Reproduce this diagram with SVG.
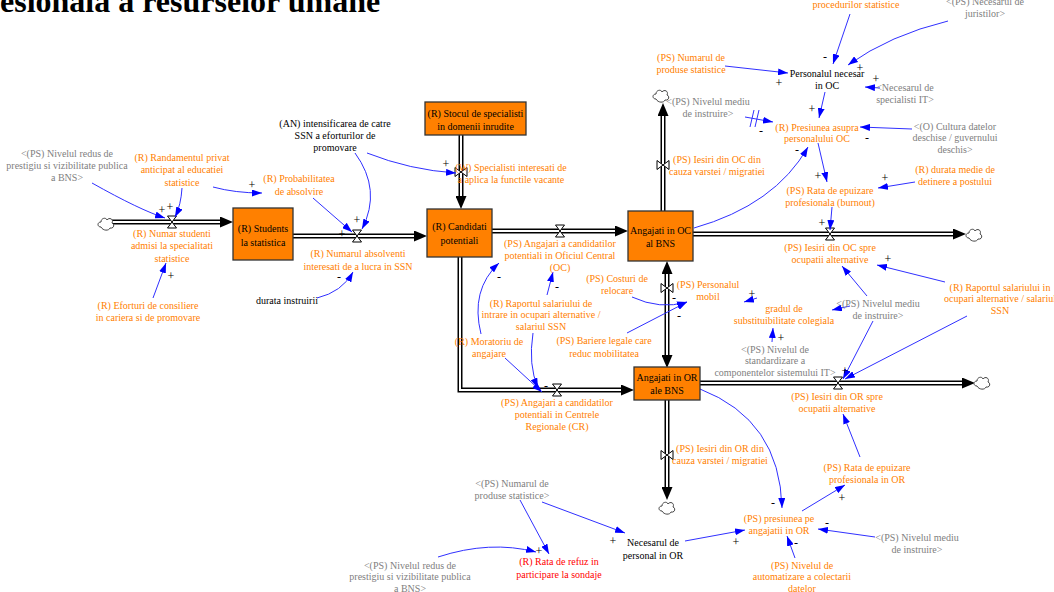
<svg xmlns="http://www.w3.org/2000/svg" width="1054" height="592" viewBox="0 0 1054 592">
<style>
.t{font-family:"Liberation Serif","Times New Roman",serif;font-size:10px;text-anchor:middle}
.o{fill:#ff8000}.g{fill:#808080}.k{fill:#000}.r{fill:#ff0000}
.box{fill:#ff8000;stroke:#333;stroke-width:1.3}
.po{fill:none;stroke:#000;stroke-width:5;stroke-linejoin:miter}
.pi{fill:none;stroke:#fff;stroke-width:2;stroke-linejoin:miter}
.ln{fill:none;stroke:#3030ff;stroke-width:1;marker-end:url(#ba)}
.sg{font-family:"Liberation Serif","Times New Roman",serif;font-size:12px;text-anchor:middle;fill:#000}
</style>
<defs>
<marker id="ba" viewBox="0 0 10 7" refX="10" refY="3.5" markerWidth="10" markerHeight="7" markerUnits="userSpaceOnUse" orient="auto"><path d="M0,0L10,3.5L0,7z" fill="#0000ff"/></marker>
<marker id="pa" viewBox="0 0 13 11" refX="0" refY="5.5" markerWidth="13" markerHeight="11" markerUnits="userSpaceOnUse" orient="auto-start-reverse"><path d="M0,0L13,5.5L0,11z" fill="#000"/></marker>
<path id="vh" d="M-4.5,-6H4.5L-4.5,6H4.5Z" fill="#fff" stroke="#000" stroke-width="1"/>
<path id="vv" d="M-6,-4.5V4.5L6,-4.5V4.5Z" fill="#fff" stroke="#000" stroke-width="1"/>
<path id="cloud" d="M-5,4C-9,4 -9,-1 -5,-1C-5,-5 0,-6 1,-3C3,-6 8,-4 6,0C9,1 8,6 4,5C3,8 -3,8 -5,4Z" fill="#fff" stroke="#444" stroke-width="1"/>
</defs>
<rect width="1054" height="592" fill="#fff"/>
<text x="0" y="12" font-family="Liberation Serif,'Times New Roman',serif" font-weight="bold" font-size="32" fill="#000">esionala a resurselor umane</text>

<g id="flows">
<path class="po" d="M112,222H220" marker-end="url(#pa)"/><path class="pi" d="M112,222H220"/>
<path class="po" d="M293,236H414" marker-end="url(#pa)"/><path class="pi" d="M293,236H414"/>
<path class="po" d="M461,135V196" marker-end="url(#pa)"/><path class="pi" d="M461,135V196"/>
<path class="po" d="M492,231H615" marker-end="url(#pa)"/><path class="pi" d="M492,231H615"/>
<path class="po" d="M460,257V390H621" marker-end="url(#pa)"/><path class="pi" d="M460,257V390H621"/>
<path class="po" d="M663,211V116" marker-end="url(#pa)"/><path class="pi" d="M663,211V116"/>
<path class="po" d="M693,234H953" marker-end="url(#pa)"/><path class="pi" d="M693,234H953"/>
<path class="po" d="M667,274V355" marker-start="url(#pa)" marker-end="url(#pa)"/><path class="pi" d="M667,274V355"/>
<path class="po" d="M667,400V487" marker-end="url(#pa)"/><path class="pi" d="M667,400V487"/>
<path class="po" d="M700,383H962" marker-end="url(#pa)"/><path class="pi" d="M700,383H962"/>
<use href="#cloud" x="106" y="223"/>
<use href="#cloud" x="661" y="95"/>
<use href="#cloud" x="974" y="234"/>
<use href="#cloud" x="667" y="507"/>
<use href="#cloud" x="982" y="382"/>
<use href="#vh" x="172" y="222"/>
<use href="#vh" x="357" y="236"/>
<use href="#vv" x="461" y="172"/>
<use href="#vh" x="560" y="231"/>
<use href="#vh" x="557" y="390"/>
<use href="#vv" x="663" y="165"/>
<use href="#vh" x="830" y="234"/>
<use href="#vv" x="667" y="288"/>
<use href="#vv" x="667" y="455"/>
<use href="#vh" x="838" y="383"/>
</g>

<g id="connectors">
<path class="ln" d="M92,183Q140,210 165,218"/>
<path class="ln" d="M182,188Q181,205 175,217"/>
<path class="ln" d="M213,187Q235,193 262,193"/>
<path class="ln" d="M313,198L352,232"/>
<path class="ln" d="M355,153Q382,190 362,229"/>
<path class="ln" d="M367,153Q410,170 456,173"/>
<path class="ln" d="M317,298Q342,292 353,272"/>
<path class="ln" d="M153,298L166,263"/>
<path class="ln" d="M725,66L788,73"/>
<path class="ln" d="M850,14L833,64"/>
<path class="ln" d="M948,21Q890,35 848,65"/>
<path class="ln" d="M880,88L865,87"/>
<path class="ln" d="M825,92L819,118"/>
<path class="ln" d="M745,117L773,122"/>
<path d="M750,127L754,110M755,127L759,110" stroke="#3030ff" stroke-width="1" fill="none"/>
<path class="ln" d="M912,129L860,127"/>
<path class="ln" d="M818,143L827,182"/>
<path class="ln" d="M694,228Q775,205 808,147"/>
<path class="ln" d="M915,182L878,188"/>
<path class="ln" d="M832,207L830,230"/>
<path class="ln" d="M945,282L877,265"/>
<path class="ln" d="M967,316L845,379"/>
<path class="ln" d="M867,296L842,266"/>
<path class="ln" d="M850,306L832,310"/>
<path class="ln" d="M873,321L843,379"/>
<path class="ln" d="M757,298L744,302"/>
<path class="ln" d="M772,342L773,328"/>
<path class="ln" d="M632,297Q660,310 687,302"/>
<path class="ln" d="M627,333L687,302"/>
<path class="ln" d="M547,295L553,272"/>
<path class="ln" d="M533,333Q528,365 538,388"/>
<path class="ln" d="M505,358L542,392"/>
<path class="ln" d="M481,334Q470,290 499,263"/>
<path class="ln" d="M520,500L549,554"/>
<path class="ln" d="M542,502L625,533"/>
<path class="ln" d="M438,557Q490,540 536,552"/>
<path class="ln" d="M685,541L745,530"/>
<path class="ln" d="M700,389Q780,420 782,508"/>
<path class="ln" d="M802,511L845,485"/>
<path class="ln" d="M860,457L843,414"/>
<path class="ln" d="M875,537L818,529"/>
<path class="ln" d="M795,558L787,536"/>
</g>

<g id="polarities">
<text class="sg" x="825" y="61">-</text><text class="sg" x="860" y="72">+</text><text class="sg" x="779" y="87">+</text><text class="sg" x="876" y="83">+</text>
<text class="sg" x="812" y="113">+</text><text class="sg" x="761" y="135">-</text><text class="sg" x="867" y="142">-</text><text class="sg" x="818" y="180">+</text>
<text class="sg" x="885" y="182">+</text><text class="sg" x="797" y="154">-</text><text class="sg" x="822" y="227">+</text><text class="sg" x="888" y="263">+</text>
<text class="sg" x="845" y="375">+</text><text class="sg" x="752" y="298">+</text><text class="sg" x="781" y="342">+</text><text class="sg" x="674" y="302">-</text>
<text class="sg" x="679" y="320">-</text><text class="sg" x="557" y="291">-</text><text class="sg" x="499" y="281">-</text><text class="sg" x="546" y="390">-</text>
<text class="sg" x="162" y="214">+</text><text class="sg" x="170" y="211">+</text><text class="sg" x="252" y="189">+</text><text class="sg" x="357" y="224">+</text>
<text class="sg" x="342" y="238">+</text><text class="sg" x="446" y="168">+</text><text class="sg" x="339" y="281">-</text><text class="sg" x="171" y="280">+</text>
<text class="sg" x="613" y="545">+</text><text class="sg" x="539" y="555">+</text><text class="sg" x="736" y="546">+</text><text class="sg" x="773" y="507">-</text>
<text class="sg" x="842" y="502">+</text><text class="sg" x="827" y="527">-</text><text class="sg" x="796" y="547">-</text>
</g>

<g id="students"><rect class="box" x="233" y="208" width="60" height="52"/><text class="t k" x="263" y="231.5">(R) Students<tspan x="263" dy="14">la statistica</tspan></text></g>
<g id="stocul"><rect class="box" x="425" y="102" width="101" height="33"/><text class="t k" x="475.5" y="116.5">(R) Stocul de specialisti<tspan x="475.5" dy="13">in domenii inrudite</tspan></text></g>
<g id="candidati"><rect class="box" x="427" y="209" width="65" height="48"/><text class="t k" x="459.5" y="229.5">(R) Candidati<tspan x="459.5" dy="14.5">potentiali</tspan></text></g>
<g id="angajati_oc"><rect class="box" x="628" y="211" width="65" height="50"/><text class="t k" x="660.5" y="233.5">Angajati in OC<tspan x="660.5" dy="13">al BNS</tspan></text></g>
<g id="angajati_or"><rect class="box" x="634" y="367" width="66" height="33"/><text class="t k" x="667" y="380.5">Angajati in OR<tspan x="667" dy="13">ale BNS</tspan></text></g>

<g id="n_prestigiu1"><text class="t g" x="67" y="156.5">&lt;(PS) Nivelul redus de<tspan x="67" dy="12">prestigiu si vizibilitate publica</tspan><tspan x="67" dy="12">a BNS&gt;</tspan></text></g>
<g id="n_randament"><text class="t o" x="182" y="160.5">(R) Randamentul privat<tspan x="182" dy="12.5">anticipat al educatiei</tspan><tspan x="182" dy="12.5">statistice</tspan></text></g>
<g id="n_probabilitate"><text class="t o" x="299" y="181.5">(R) Probabilitatea<tspan x="299" dy="13">de absolvire</tspan></text></g>
<g id="n_an"><text class="t k" x="335" y="126.5">(AN) intensificarea de catre<tspan x="335" dy="12">SSN a eforturilor de</tspan><tspan x="335" dy="12">promovare</tspan></text></g>
<g id="n_numar_studenti"><text class="t o" x="172" y="236.5">(R) Numar studenti<tspan x="172" dy="12.5">admisi la specialitati</tspan><tspan x="172" dy="12.5">statistice</tspan></text></g>
<g id="n_absolventi"><text class="t o" x="358" y="256.5">(R) Numarul absolventi<tspan x="358" dy="13">interesati de a lucra in SSN</tspan></text></g>
<g id="n_durata"><text class="t k" x="287" y="303.5">durata instruirii</text></g>
<g id="n_eforturi"><text class="t o" x="148" y="308.5">(R) Eforturi de consiliere<tspan x="148" dy="12">in cariera si de promovare</tspan></text></g>
<g id="n_specialisti"><text class="t o" x="511" y="170.5">(W) Specialisti interesati de<tspan x="511" dy="12">a aplica la functile vacante</tspan></text></g>
<g id="n_angajari_oc"><text class="t o" x="560" y="246.5">(PS) Angajari a candidatilor<tspan x="560" dy="12">potentiali in Oficiul Central</tspan><tspan x="560" dy="12">(OC)</tspan></text></g>
<g id="n_angajari_cr"><text class="t o" x="557" y="405.5">(PS) Angajari a candidatilor<tspan x="557" dy="12">potentiali in Centrele</tspan><tspan x="557" dy="12">Regionale (CR)</tspan></text></g>
<g id="n_raport_intrare"><text class="t o" x="541" y="306.5">(R) Raportul salariului de<tspan x="541" dy="11.5">intrare in ocupari alternative /</tspan><tspan x="541" dy="11.5">salariul SSN</tspan></text></g>
<g id="n_moratoriu"><text class="t o" x="489" y="344.5">(R) Moratoriu de<tspan x="489" dy="12">angajare</tspan></text></g>
<g id="n_costuri"><text class="t o" x="617" y="281.5">(PS) Costuri de<tspan x="617" dy="12">relocare</tspan></text></g>
<g id="n_bariere"><text class="t o" x="604" y="344">(PS) Bariere legale care<tspan x="604" dy="12.5">reduc mobilitatea</tspan></text></g>
<g id="n_mobil"><text class="t o" x="708" y="287.5">(PS) Personalul<tspan x="708" dy="12">mobil</tspan></text></g>
<g id="n_gradul"><text class="t o" x="784" y="311.5">gradul de<tspan x="784" dy="12.5">substituibilitate colegiala</tspan></text></g>
<g id="n_standard"><text class="t g" x="775" y="352.5">&lt;(PS) Nivelul de<tspan x="775" dy="11.7">standardizare a</tspan><tspan x="775" dy="11.7">componentelor sistemului IT&gt;</tspan></text></g>
<g id="n_mediu2"><text class="t g" x="878" y="306.5">&lt;(PS) Nivelul mediu<tspan x="878" dy="12">de instruire&gt;</tspan></text></g>
<g id="n_raport_alt"><text class="t o" x="1000" y="290.5">(R) Raportul salariului in<tspan x="1000" dy="11.5">ocupari alternative / salariul</tspan><tspan x="1000" dy="11.5">SSN</tspan></text></g>
<g id="n_iesiri_oc_spre"><text class="t o" x="830" y="250.5">(PS) Iesiri din OC spre<tspan x="830" dy="12.5">ocupatii alternative</tspan></text></g>
<g id="n_burnout"><text class="t o" x="830" y="193.5">(PS) Rata de epuizare<tspan x="830" dy="12">profesionala (burnout)</tspan></text></g>
<g id="n_durata_medie"><text class="t o" x="955" y="172.5">(R) durata medie de<tspan x="955" dy="12">detinere a postului</tspan></text></g>
<g id="n_presiune_oc"><text class="t o" x="817" y="130.5">(R) Presiunea asupra<tspan x="817" dy="11.5">personalului OC</tspan></text></g>
<g id="n_cultura"><text class="t g" x="955" y="129.5">&lt;(O) Cultura datelor<tspan x="955" dy="11.5">deschise / guvernului</tspan><tspan x="955" dy="11.5">deschis&gt;</tspan></text></g>
<g id="n_mediu1"><text class="t g" x="708" y="104.5">&lt;(PS) Nivelul mediu<tspan x="708" dy="12.5">de instruire&gt;</tspan></text></g>
<g id="n_personal_oc"><text class="t k" x="827" y="76.5">Personalul necesar<tspan x="827" dy="12">in OC</tspan></text></g>
<g id="n_it"><text class="t g" x="905" y="90.5">&lt;Necesarul de<tspan x="905" dy="12">specialisti IT&gt;</tspan></text></g>
<g id="n_produse1"><text class="t o" x="691" y="60.5">(PS) Numarul de<tspan x="691" dy="12">produse statistice</tspan></text></g>
<g id="n_top"><text class="t o" x="856" y="8">procedurilor statistice</text></g>
<g id="n_juristi"><text class="t g" x="985" y="5">&lt;(PS) Necesarul de<tspan x="985" dy="12">juristilor&gt;</tspan></text></g>
<g id="n_iesiri_oc_din"><text class="t o" x="717" y="162.5">(PS) Iesiri din OC din<tspan x="717" dy="12.5">cauza varstei / migratiei</tspan></text></g>
<g id="n_iesiri_or_din"><text class="t o" x="720" y="451.5">(PS) Iesiri din OR din<tspan x="720" dy="12.5">cauza varstei / migratiei</tspan></text></g>
<g id="n_iesiri_or_spre"><text class="t o" x="837" y="399.5">(PS) Iesiri din OR spre<tspan x="837" dy="12.5">ocupatii alternative</tspan></text></g>
<g id="n_produse2"><text class="t g" x="512" y="486.5">&lt;(PS) Numarul de<tspan x="512" dy="12.5">produse statistice&gt;</tspan></text></g>
<g id="n_personal_or"><text class="t k" x="653" y="545.5">Necesarul de<tspan x="653" dy="13">personal in OR</tspan></text></g>
<g id="n_prestigiu2"><text class="t g" x="410" y="568.5">&lt;(PS) Nivelul redus de<tspan x="410" dy="11.5">prestigiu si vizibilitate publica</tspan><tspan x="410" dy="11.5">a BNS&gt;</tspan></text></g>
<g id="n_refuz"><text class="t r" x="559" y="564.5">(R) Rata de refuz in<tspan x="559" dy="13.5">participare la sondaje</tspan></text></g>
<g id="n_presiune_or"><text class="t o" x="779" y="521.5">(PS) presiunea pe<tspan x="779" dy="12">angajatii in OR</tspan></text></g>
<g id="n_epuizare_or"><text class="t o" x="867" y="470.5">(PS) Rata de epuizare<tspan x="867" dy="12.5">profesionala in OR</tspan></text></g>
<g id="n_mediu3"><text class="t g" x="917" y="540.5">&lt;(PS) Nivelul mediu<tspan x="917" dy="12">de instruire&gt;</tspan></text></g>
<g id="n_automatizare"><text class="t o" x="802" y="568.5">(PS) Nivelul de<tspan x="802" dy="11.5">automatizare a colectarii</tspan><tspan x="802" dy="11.5">datelor</tspan></text></g>
</svg>
